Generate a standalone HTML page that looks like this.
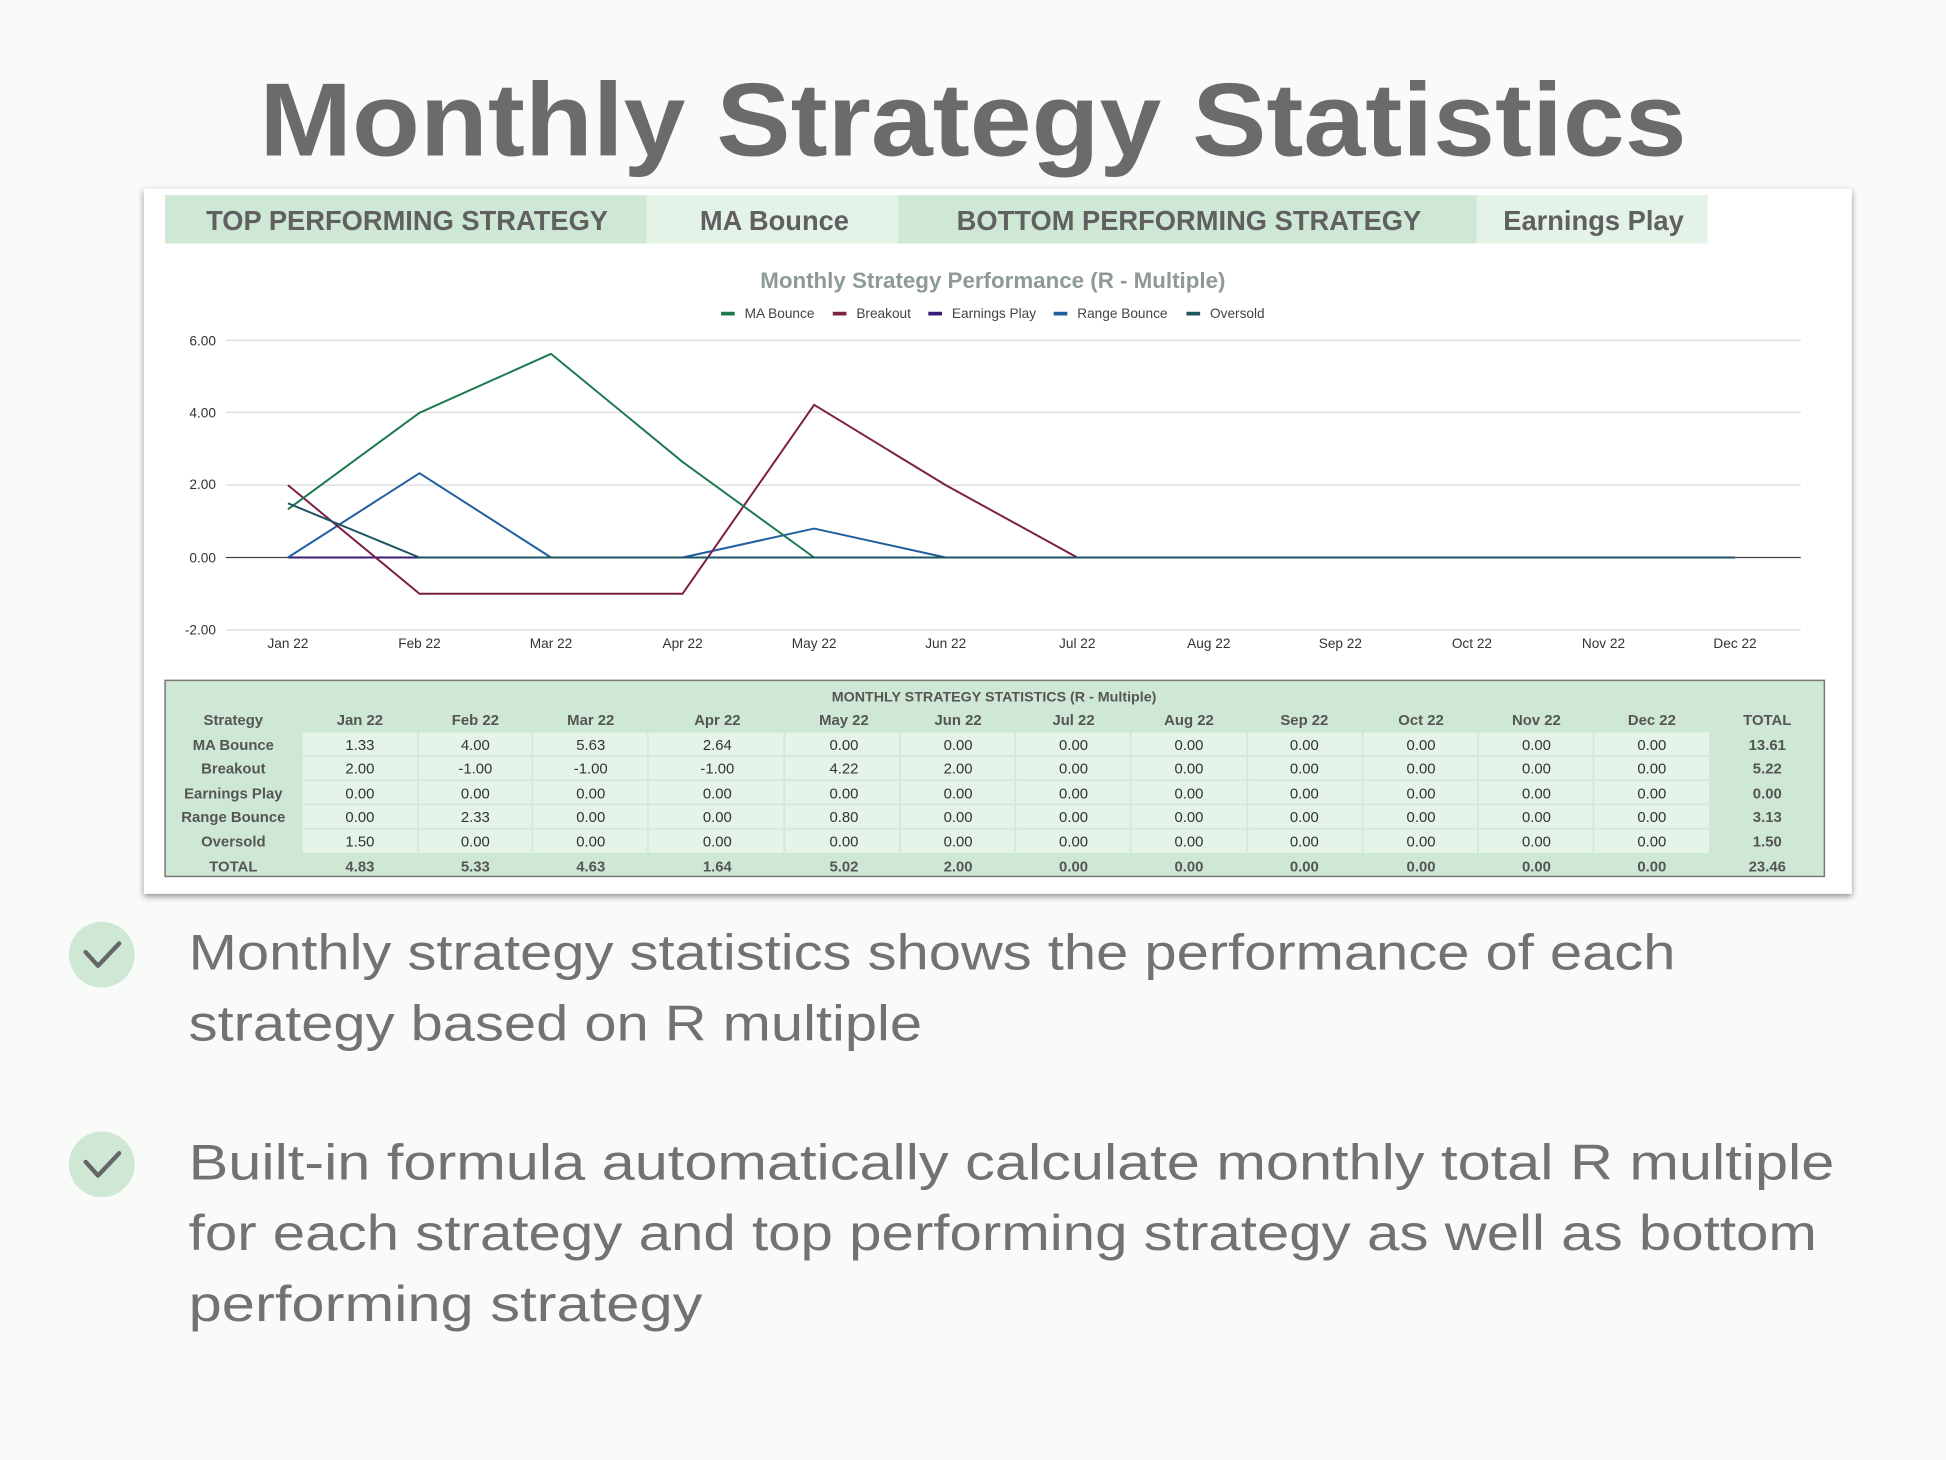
<!DOCTYPE html>
<html><head><meta charset="utf-8"><style>
html,body{margin:0;padding:0;background:#f9fbf9;}
svg{display:block}
text{font-family:"Liberation Sans",Arial,sans-serif;}
</style></head><body>
<svg width="1946" height="1460" viewBox="0 0 1568 1176" preserveAspectRatio="xMidYMid meet" xmlns="http://www.w3.org/2000/svg">
<defs>
<filter id="sh" x="-5%" y="-5%" width="110%" height="115%"><feDropShadow dx="0" dy="2" stdDeviation="2.5" flood-color="#000" flood-opacity="0.45"/></filter>
</defs>
<rect width="1568" height="1176" fill="#f9fbf9"/>
<text x="784" y="125" text-anchor="middle" font-size="84" font-weight="bold" fill="#6b6b6b" textLength="1150" lengthAdjust="spacingAndGlyphs">Monthly Strategy Statistics</text>

<rect x="116" y="152" width="1376" height="568" fill="#fff" filter="url(#sh)"/>
<rect x="116" y="152" width="1376" height="4" fill="#fff"/>

<rect x="133" y="157" width="388" height="39" fill="#cfe8d6"/>
<rect x="521" y="157" width="203" height="39" fill="#e3f3e7"/>
<rect x="724" y="157" width="466" height="39" fill="#cfe8d6"/>
<rect x="1190" y="157" width="186" height="39" fill="#e3f3e7"/>
<g font-size="22" font-weight="bold" fill="#606060" text-anchor="middle">
<text x="328" y="185">TOP PERFORMING STRATEGY</text>
<text x="624" y="185">MA Bounce</text>
<text x="958" y="185">BOTTOM PERFORMING STRATEGY</text>
<text x="1284" y="185">Earnings Play</text>
</g>

<text x="800" y="232" text-anchor="middle" font-size="18" font-weight="bold" fill="#8d9b93">Monthly Strategy Performance (R - Multiple)</text>
<g font-size="11" fill="#444">
<rect x="581" y="251" width="11" height="3" fill="#1e7a4f"/><text x="600" y="256">MA Bounce</text>
<rect x="671" y="251" width="11" height="3" fill="#7b1f45"/><text x="690" y="256">Breakout</text>
<rect x="748" y="251" width="11" height="3" fill="#3b1a78"/><text x="767" y="256">Earnings Play</text>
<rect x="849" y="251" width="11" height="3" fill="#1f5fa0"/><text x="868" y="256">Range Bounce</text>
<rect x="956" y="251" width="11" height="3" fill="#1d5563"/><text x="975" y="256">Oversold</text>
</g>

<g stroke="#dadada" stroke-width="1">
<line x1="182" y1="274" x2="1451" y2="274"/>
<line x1="182" y1="332" x2="1451" y2="332"/>
<line x1="182" y1="390.7" x2="1451" y2="390.7"/>
<line x1="182" y1="507.3" x2="1451" y2="507.3"/>
</g>
<line x1="182" y1="449" x2="1451" y2="449" stroke="#444" stroke-width="1"/>
<g font-size="11" fill="#333" text-anchor="end">
<text x="174" y="278">6.00</text><text x="174" y="336">4.00</text><text x="174" y="394">2.00</text><text x="174" y="453">0.00</text><text x="174" y="511">-2.00</text>
</g>
<g font-size="11" fill="#333" text-anchor="middle">
<text x="232" y="522">Jan 22</text><text x="338" y="522">Feb 22</text><text x="444" y="522">Mar 22</text><text x="550" y="522">Apr 22</text><text x="656" y="522">May 22</text><text x="762" y="522">Jun 22</text><text x="868" y="522">Jul 22</text><text x="974" y="522">Aug 22</text><text x="1080" y="522">Sep 22</text><text x="1186" y="522">Oct 22</text><text x="1292" y="522">Nov 22</text><text x="1398" y="522">Dec 22</text>
</g>
<g fill="none" stroke-width="1.6" stroke-linejoin="round">
<polyline stroke="#3b1a78" points="232,449 1398,449"/>
<polyline stroke="#1f5fa0" points="232,449 338,381.1 444,449 550,449 656,425.7 762,449 1398,449"/>
<polyline stroke="#7b1f45" points="232,390.7 338,478.2 444,478.2 550,478.2 656,326 762,390.7 868,449 1398,449"/>
<polyline stroke="#1e7a4f" points="232,410.2 338,332.4 444,284.9 550,372 656,449 1398,449"/>
<polyline stroke="#1d5563" points="232,405.3 338,449 1398,449"/>
</g>

<rect x="133" y="548" width="1337" height="158" fill="#cfe8d6" stroke="#777" stroke-width="1.2"/>
<rect x="244" y="590" width="1133" height="97" fill="#e5f4e8"/>
<g stroke="#d2ead9" stroke-width="1.5">
<line x1="337" y1="590" x2="337" y2="687"/><line x1="429" y1="590" x2="429" y2="687"/><line x1="522" y1="590" x2="522" y2="687"/><line x1="632" y1="590" x2="632" y2="687"/><line x1="725" y1="590" x2="725" y2="687"/><line x1="818" y1="590" x2="818" y2="687"/><line x1="911" y1="590" x2="911" y2="687"/><line x1="1005" y1="590" x2="1005" y2="687"/><line x1="1098" y1="590" x2="1098" y2="687"/><line x1="1191" y1="590" x2="1191" y2="687"/><line x1="1284" y1="590" x2="1284" y2="687"/>
<line x1="244" y1="609" x2="1377" y2="609"/><line x1="244" y1="628.5" x2="1377" y2="628.5"/><line x1="244" y1="648" x2="1377" y2="648"/><line x1="244" y1="667.5" x2="1377" y2="667.5"/>
</g>
<text x="801" y="565" text-anchor="middle" font-size="11.5" font-weight="bold" fill="#555">MONTHLY STRATEGY STATISTICS (R - Multiple)</text>
<g font-size="12" text-anchor="middle" fill="#555">
<g font-weight="bold"><text x="188" y="584">Strategy</text><text x="290" y="584">Jan 22</text><text x="383" y="584">Feb 22</text><text x="476" y="584">Mar 22</text><text x="578" y="584">Apr 22</text><text x="680" y="584">May 22</text><text x="772" y="584">Jun 22</text><text x="865" y="584">Jul 22</text><text x="958" y="584">Aug 22</text><text x="1051" y="584">Sep 22</text><text x="1145" y="584">Oct 22</text><text x="1238" y="584">Nov 22</text><text x="1331" y="584">Dec 22</text><text x="1424" y="584">TOTAL</text>
<text x="188" y="604">MA Bounce</text><text x="188" y="623">Breakout</text><text x="188" y="643">Earnings Play</text><text x="188" y="662">Range Bounce</text><text x="188" y="682">Oversold</text><text x="188" y="702">TOTAL</text>
<text x="1424" y="604">13.61</text><text x="1424" y="623">5.22</text><text x="1424" y="643">0.00</text><text x="1424" y="662">3.13</text><text x="1424" y="682">1.50</text>
<text x="290" y="702">4.83</text><text x="383" y="702">5.33</text><text x="476" y="702">4.63</text><text x="578" y="702">1.64</text><text x="680" y="702">5.02</text><text x="772" y="702">2.00</text><text x="865" y="702">0.00</text><text x="958" y="702">0.00</text><text x="1051" y="702">0.00</text><text x="1145" y="702">0.00</text><text x="1238" y="702">0.00</text><text x="1331" y="702">0.00</text><text x="1424" y="702">23.46</text>
</g>
<g fill="#333">
<text x="290" y="604">1.33</text><text x="383" y="604">4.00</text><text x="476" y="604">5.63</text><text x="578" y="604">2.64</text><text x="680" y="604">0.00</text><text x="772" y="604">0.00</text><text x="865" y="604">0.00</text><text x="958" y="604">0.00</text><text x="1051" y="604">0.00</text><text x="1145" y="604">0.00</text><text x="1238" y="604">0.00</text><text x="1331" y="604">0.00</text>
<text x="290" y="623">2.00</text><text x="383" y="623">-1.00</text><text x="476" y="623">-1.00</text><text x="578" y="623">-1.00</text><text x="680" y="623">4.22</text><text x="772" y="623">2.00</text><text x="865" y="623">0.00</text><text x="958" y="623">0.00</text><text x="1051" y="623">0.00</text><text x="1145" y="623">0.00</text><text x="1238" y="623">0.00</text><text x="1331" y="623">0.00</text>
<text x="290" y="643">0.00</text><text x="383" y="643">0.00</text><text x="476" y="643">0.00</text><text x="578" y="643">0.00</text><text x="680" y="643">0.00</text><text x="772" y="643">0.00</text><text x="865" y="643">0.00</text><text x="958" y="643">0.00</text><text x="1051" y="643">0.00</text><text x="1145" y="643">0.00</text><text x="1238" y="643">0.00</text><text x="1331" y="643">0.00</text>
<text x="290" y="662">0.00</text><text x="383" y="662">2.33</text><text x="476" y="662">0.00</text><text x="578" y="662">0.00</text><text x="680" y="662">0.80</text><text x="772" y="662">0.00</text><text x="865" y="662">0.00</text><text x="958" y="662">0.00</text><text x="1051" y="662">0.00</text><text x="1145" y="662">0.00</text><text x="1238" y="662">0.00</text><text x="1331" y="662">0.00</text>
<text x="290" y="682">1.50</text><text x="383" y="682">0.00</text><text x="476" y="682">0.00</text><text x="578" y="682">0.00</text><text x="680" y="682">0.00</text><text x="772" y="682">0.00</text><text x="865" y="682">0.00</text><text x="958" y="682">0.00</text><text x="1051" y="682">0.00</text><text x="1145" y="682">0.00</text><text x="1238" y="682">0.00</text><text x="1331" y="682">0.00</text>
</g>
</g>

<circle cx="82" cy="769" r="26.5" fill="#cfe8d6"/>
<polyline points="69,767 79,778 96,760" fill="none" stroke="#666" stroke-width="3.5" stroke-linecap="round" stroke-linejoin="round"/>
<circle cx="82" cy="938" r="26.5" fill="#cfe8d6"/>
<polyline points="69,936 79,947 96,929" fill="none" stroke="#666" stroke-width="3.5" stroke-linecap="round" stroke-linejoin="round"/>
<g font-size="40" fill="#727272">
<text x="152" y="781" textLength="1198" lengthAdjust="spacingAndGlyphs">Monthly strategy statistics shows the performance of each</text>
<text x="152" y="838" textLength="591" lengthAdjust="spacingAndGlyphs">strategy based on R multiple</text>
<text x="152" y="950" textLength="1326" lengthAdjust="spacingAndGlyphs">Built-in formula automatically calculate monthly total R multiple</text>
<text x="152" y="1007" textLength="1312" lengthAdjust="spacingAndGlyphs">for each strategy and top performing strategy as well as bottom</text>
<text x="152" y="1064" textLength="414" lengthAdjust="spacingAndGlyphs">performing strategy</text>
</g>
</svg>
</body></html>
